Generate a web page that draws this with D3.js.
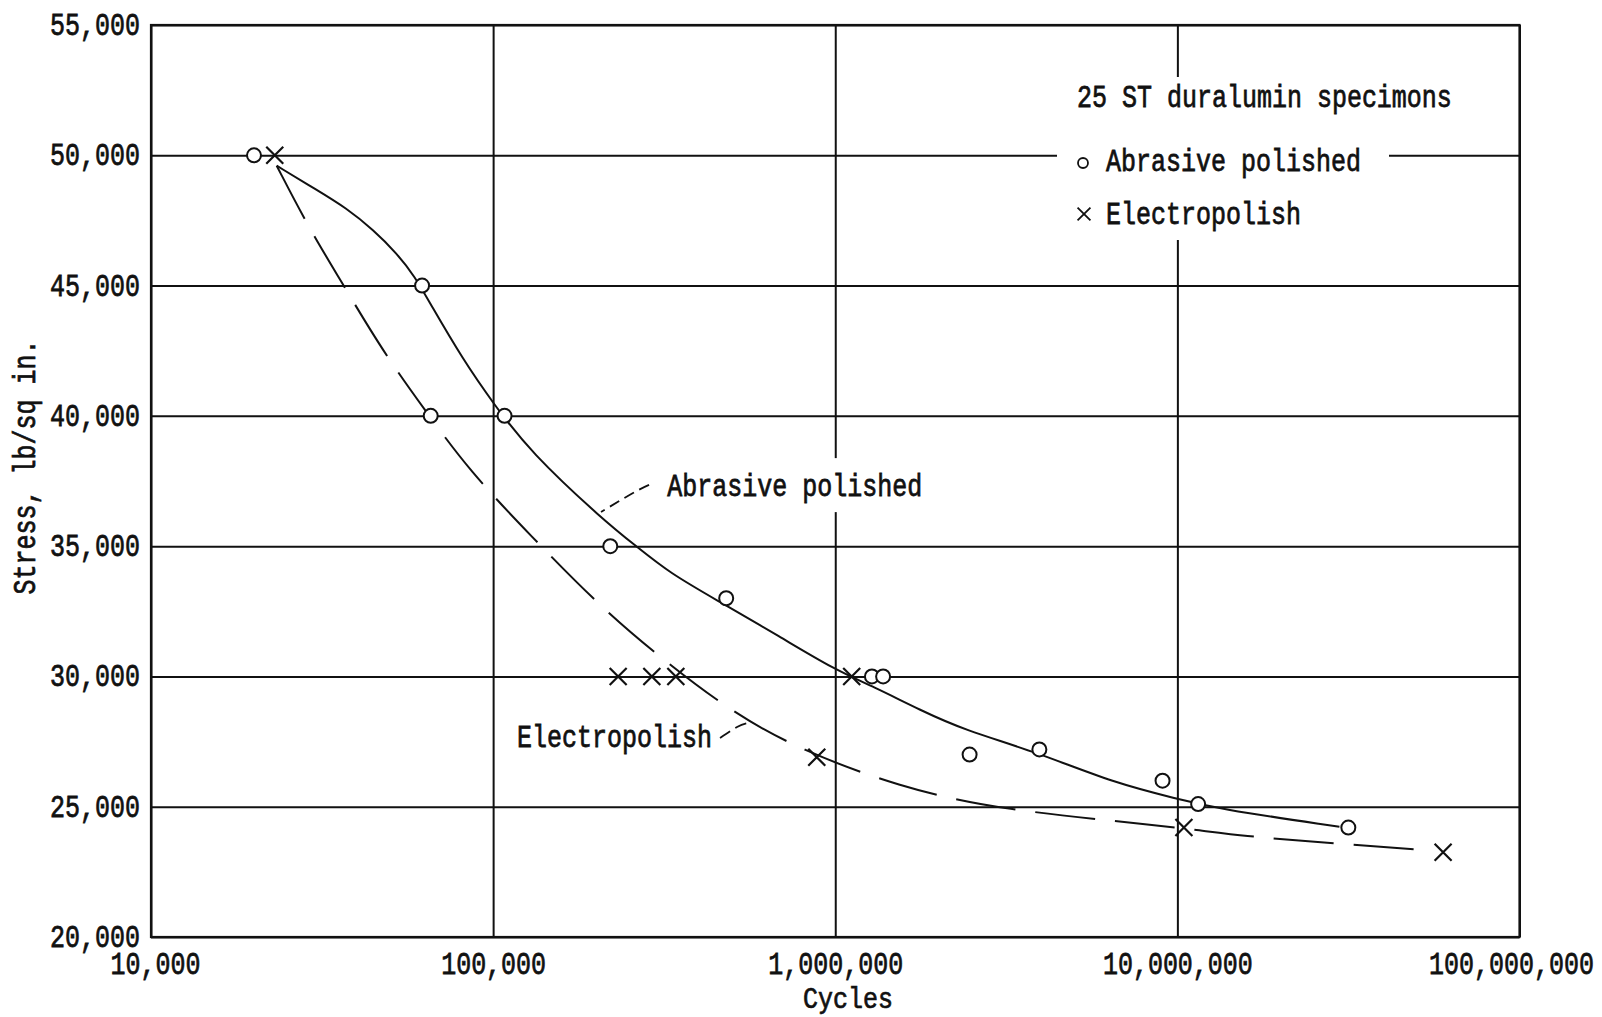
<!DOCTYPE html>
<html><head><meta charset="utf-8">
<script src="https://cdn.jsdelivr.net/npm/d3@7"></script>
<style>
html,body{margin:0;padding:0;background:#fff;}
svg{display:block;background:#fff;}
text{font-family:"Liberation Mono","Courier New",monospace;font-size:25px;fill:#111;stroke:#111;stroke-width:0.6px;}
</style></head><body>
<svg id="chart" width="1602" height="1017"></svg>
<script>
// ---------- data ----------
const yTicks = [20000, 25000, 30000, 35000, 40000, 45000, 50000, 55000];
const xTicks = [10000, 100000, 1000000, 10000000, 100000000];

// Abrasive polished specimens (circles)
const abrasiveCycles = [20000, 62000, 65700, 108000, 220000, 480000, 1280000, 1380000, 2470000, 3950000, 9050000, 11500000, 31600000];
const abrasiveStress = [50000, 45000, 40000, 40000, 35000, 33000, 30000, 30000, 27000, 27200, 26000, 25100, 24200];

// Electropolish specimens (crosses)
const electroCycles = [23000, 232000, 291000, 342000, 883000, 1117000, 10450000, 59800000];
const electroStress = [50000, 30000, 30000, 30000, 26900, 30000, 24200, 23250];

// Faired S-N curves
const abrasiveCurveCycles = [23300, 30500, 37300, 44700, 52300, 59100, 65400, 81800, 100100, 128200, 210000, 263000, 329000, 450000, 690000, 999000, 1292000, 1770000, 2385000, 3856000, 6545000, 10330000, 12830000, 29760000];
const abrasiveCurveStress = [49600, 48670, 47970, 47130, 46240, 45340, 44320, 42140, 40480, 38620, 36000, 34980, 33960, 32930, 31520, 30250, 29610, 28710, 27940, 27110, 25900, 25260, 24940, 24230];

const electroCurveCycles = [23300, 28800, 36500, 47700, 63200, 85600, 128200, 205300, 314400, 503700, 790700, 1529000, 3031000, 9276000, 15920000, 28690000, 55560000];
const electroCurveStress = [49600, 47260, 45020, 42460, 40220, 37860, 35430, 32680, 30630, 28590, 27180, 25770, 24870, 24270, 23850, 23600, 23310];

// Texts
const yTitle = "Stress, lb/sq in.";
const xTitle = "Cycles";
const legendTitle = "25 ST duralumin specimons";
const seriesNames = ["Abrasive polished", "Electropolish"];

// Curve annotations (label anchor + leader line, in data space)
const abrasiveNoteAt = [323000, 36920];
const abrasiveLeaderCycles = [285600, 256400, 206700];
const abrasiveLeaderStress = [37350, 37040, 36310];
const electroNoteAt = [436400, 27290];
const electroLeaderCycles = [460500, 516400, 555900];
const electroLeaderStress = [27640, 28060, 28210];

// ---------- drawing ----------
const VS = 1.25; // typewriter glyphs are taller than Liberation Mono
const svg = d3.select("#chart");
const L = 151, R = 1519.5, T = 25, B = 937;
const x = d3.scaleLog().domain([1e4, 1e8]).range([L, R]);
const y = d3.scaleLinear().domain([20000, 55000]).range([B, T]);
const fmt = d3.format(",");
const ink = "#111";

function label(sel, px, py, str, anchor, extra, vs) {
  return sel.append("text")
    .attr("transform", `translate(${px},${py}) ${extra || ""} scale(1,${vs || VS})`)
    .attr("text-anchor", anchor || "start")
    .text(str);
}

// gridlines via axes
const gy = svg.append("g").attr("transform", `translate(${L},0)`)
  .call(d3.axisLeft(y).tickValues(yTicks).tickFormat(fmt).tickSize(-(R - L)).tickPadding(0));
gy.select(".domain").remove();
gy.selectAll(".tick line").attr("stroke", ink).attr("stroke-width", 2);
gy.selectAll(".tick text")
  .attr("x", null).attr("dy", null).attr("y", null)
  .attr("text-anchor", "end")
  .attr("transform", `translate(-11,9.5) scale(1,${VS})`)
  .attr("font-size", 25).attr("font-family", null);

const gx = svg.append("g").attr("transform", `translate(0,${B})`)
  .call(d3.axisBottom(x).tickValues(xTicks).tickFormat(fmt).tickSize(-(B - T)).tickPadding(0));
gx.select(".domain").remove();
gx.selectAll(".tick line").attr("stroke", ink).attr("stroke-width", 2);
gx.selectAll(".tick text")
  .attr("y", null).attr("dy", null)
  .attr("text-anchor", "middle")
  .attr("transform", (d, i, n) => {
    const dx = i === 0 ? 4 : (i === n.length - 1 ? -8.5 : 0);
    return `translate(${dx},37) scale(1,${VS})`;
  })
  .attr("font-size", 25).attr("font-family", null);

// frame
svg.append("rect").attr("x", L).attr("y", T).attr("width", R - L).attr("height", B - T)
  .attr("fill", "none").attr("stroke", ink).attr("stroke-width", 2.2);

// axis titles
label(svg, 35, 467, yTitle, "middle", "rotate(-90)").attr("font-size", 26);
label(svg, 848, 1007.5, xTitle, "middle", "", 1.15);

// legend (white panel breaks the grid as in the original)
svg.append("rect").attr("x", 1057).attr("y", 77).attr("width", 332).attr("height", 163).attr("fill", "#fff");
label(svg, 1077, 107, legendTitle);
label(svg, 1106, 171, seriesNames[0]);
label(svg, 1106, 224, seriesNames[1]);
svg.append("circle").attr("cx", 1083).attr("cy", 163).attr("r", 5)
  .attr("fill", "none").attr("stroke", ink).attr("stroke-width", 1.8);
svg.append("path").attr("d", d3.symbol(d3.symbolTimes, 110)()).attr("transform", "translate(1084,214)")
  .attr("fill", "none").attr("stroke", ink).attr("stroke-width", 1.8);

// curves
const line = d3.line().x(d => x(d[0])).y(d => y(d[1])).curve(d3.curveBasis);
svg.append("path").datum(d3.zip(abrasiveCurveCycles, abrasiveCurveStress))
  .attr("d", line).attr("fill", "none").attr("stroke", ink).attr("stroke-width", 2);
svg.append("path").datum(d3.zip(electroCurveCycles, electroCurveStress))
  .attr("d", line).attr("fill", "none").attr("stroke", ink).attr("stroke-width", 2)
  .attr("stroke-dasharray", "60,20");

// annotations
const abrPos = [x(abrasiveNoteAt[0]), y(abrasiveNoteAt[1])];
svg.append("rect").attr("x", abrPos[0] - 8).attr("y", abrPos[1] - 38).attr("width", 270).attr("height", 54).attr("fill", "#fff");
label(svg, abrPos[0], abrPos[1], seriesNames[0]);
const leader = d3.line().x(d => x(d[0])).y(d => y(d[1])).curve(d3.curveNatural);
svg.append("path").datum(d3.zip(abrasiveLeaderCycles, abrasiveLeaderStress))
  .attr("d", leader).attr("fill", "none").attr("stroke", ink).attr("stroke-width", 1.8)
  .attr("stroke-dasharray", "11,6");
const elPos = [x(electroNoteAt[0]), y(electroNoteAt[1])];
label(svg, elPos[0], elPos[1], seriesNames[1], "end");
svg.append("path").datum(d3.zip(electroLeaderCycles, electroLeaderStress))
  .attr("d", leader).attr("fill", "none").attr("stroke", ink).attr("stroke-width", 1.8)
  .attr("stroke-dasharray", "12,6");

// markers
svg.append("g").selectAll("circle").data(d3.zip(abrasiveCycles, abrasiveStress)).join("circle")
  .attr("cx", d => x(d[0])).attr("cy", d => y(d[1])).attr("r", 7)
  .attr("fill", "#fff").attr("stroke", ink).attr("stroke-width", 2);
const times = d3.symbol(d3.symbolTimes, 190)();
svg.append("g").selectAll("path").data(d3.zip(electroCycles, electroStress)).join("path")
  .attr("d", times).attr("transform", d => `translate(${x(d[0])},${y(d[1])})`)
  .attr("fill", "none").attr("stroke", ink).attr("stroke-width", 2.2);
</script>
</body></html>
